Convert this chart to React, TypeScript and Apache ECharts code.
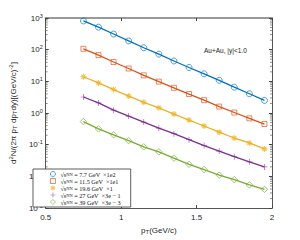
import React, { useEffect, useRef } from "react";
import * as echarts from "echarts";

const pT = [0.75, 0.85, 0.95, 1.05, 1.15, 1.25, 1.35, 1.45, 1.55, 1.65, 1.75, 1.85, 1.95];
const y77 = [807, 514, 312, 189, 115, 72.4, 44, 27.4, 17.3, 10.8, 6.56, 4.06, 2.51];
const y115 = [106.7, 67.5, 40.9, 25.5, 15.5, 9.8, 6.24, 3.98, 2.55, 1.6, 1.04, 0.68, 0.45];
const y196 = [14.0, 8.9, 5.52, 3.44, 2.18, 1.46, 0.925, 0.6, 0.39, 0.25, 0.163, 0.114, 0.074];
const y27 = [3.21, 2.09, 1.23, 0.8, 0.52, 0.333, 0.224, 0.144, 0.094, 0.063, 0.042, 0.029, 0.02];
const y39 = [0.537, 0.316, 0.206, 0.134, 0.0855, 0.0597, 0.0376, 0.0241, 0.0165, 0.011, 0.0079, 0.0054, 0.0039];

const energies = ["7.7", "11.5", "19.6", "27", "39"];
const scales = ["×1e2", "×1e1", "×1", "×3e − 1", "×3e − 3"];
const colors = ["#0072BD", "#D95319", "#EDB120", "#7E2F8E", "#77AC30"];
const allY = [y77, y115, y196, y27, y39];

const xTicks = [0.5, 1, 1.5, 2];
const yDecades = [-3, -2, -1, 0, 1, 2, 3];

function armsPath(angles: number[], t: number) {
  let d = "path://";
  for (const deg of angles) {
    const a = (deg * Math.PI) / 180;
    const ux = Math.cos(a) * 5, uy = Math.sin(a) * 5;
    const vx = -Math.sin(a) * t, vy = Math.cos(a) * t;
    const p = [
      [-ux - vx, -uy - vy],
      [ux - vx, uy - vy],
      [ux + vx, uy + vy],
      [-ux + vx, -uy + vy],
    ];
    d += `M${p[0][0].toFixed(2)},${p[0][1].toFixed(2)}L${p[1][0].toFixed(2)},${p[1][1].toFixed(2)}L${p[2][0].toFixed(2)},${p[2][1].toFixed(2)}L${p[3][0].toFixed(2)},${p[3][1].toFixed(2)}Z`;
  }
  return d;
}
const STAR = armsPath([0, 45, 90, 135], 0.9);
const PLUS = armsPath([0, 90], 0.6);
const symbols = ["circle", "rect", STAR, PLUS, "diamond"];
const hollow = [true, true, false, false, true];
const sizes = [6, 5, 6, 6, 6.5];

export default function App() {
  const ref = useRef<HTMLDivElement>(null);
  useEffect(() => {
    if (!ref.current) return;
    const chart = echarts.init(ref.current, null, { renderer: "svg" });
    const names = energies.map((e, i) => `${e} GeV ${scales[i]}`);

    const minorVals: number[] = [];
    for (let d = -3; d < 3; d++) {
      for (let k = 2; k <= 9; k++) minorVals.push(k * Math.pow(10, d));
    }

    const series: any[] = allY.map((ys, i) => ({
      name: names[i],
      type: "line",
      data: pT.map((x, j) => [x, ys[j]]),
      symbol: symbols[i],
      symbolSize: sizes[i],
      showAllSymbol: true,
      lineStyle: { color: colors[i], width: 1.3 },
      itemStyle: {
        color: hollow[i] ? "rgba(255,255,255,0)" : colors[i],
        borderColor: colors[i],
        borderWidth: hollow[i] ? 0.9 : 0,
        opacity: 0.75,
      },
      z: 3,
    }));

    series.push({
      type: "custom",
      silent: true,
      data: minorVals.map((v) => [0.5, v]),
      renderItem: (params: any, api: any) => {
        const cs = params.coordSys;
        const p = api.coord([0.5, api.value(1)]);
        const style = { stroke: "#444", lineWidth: 0.6 };
        return {
          type: "group",
          children: [
            { type: "line", shape: { x1: cs.x, y1: p[1], x2: cs.x + 2, y2: p[1] }, style },
            { type: "line", shape: { x1: cs.x + cs.width - 2, y1: p[1], x2: cs.x + cs.width, y2: p[1] }, style },
          ],
        };
      },
      z: 1,
    });

    const axisCommon = {
      axisLine: { show: true, lineStyle: { color: "#555", width: 1 } },
      axisTick: { show: true, inside: true, length: 3, lineStyle: { color: "#444" } },
      splitLine: { show: false },
    };

    chart.setOption({
      animation: false,
      backgroundColor: "#fff",
      grid: { left: 38, top: 18, right: 28, bottom: 29 },
      xAxis: [
        {
          type: "value",
          min: xTicks[0],
          max: xTicks[xTicks.length - 1],
          interval: 0.5,
          ...axisCommon,
          axisLabel: {
            fontSize: 8,
            color: "#262626",
            fontFamily: "Liberation Sans",
            margin: 5,
            formatter: (v: number) => String(v),
          },
          name: "{a|p}{s|T}{a|(GeV/c)}",
          nameLocation: "middle",
          nameGap: 15,
          nameTextStyle: {
            rich: {
              a: { fontSize: 8, color: "#262626", fontFamily: "Liberation Sans" },
              s: { fontSize: 6, color: "#262626", fontFamily: "Liberation Sans", padding: [4, 0, 0, 0] },
            },
          },
        },
        {
          type: "value",
          position: "top",
          min: xTicks[0],
          max: xTicks[xTicks.length - 1],
          interval: 0.5,
          ...axisCommon,
          axisLine: { show: true, lineStyle: { color: "#999", width: 2 } },
          axisLabel: { show: false },
        },
      ],
      yAxis: [
        {
          type: "log",
          logBase: 10,
          min: Math.pow(10, yDecades[0]),
          max: Math.pow(10, yDecades[yDecades.length - 1]),
          ...axisCommon,
          axisLabel: {
            margin: 3,
            formatter: (v: number) => `{b|10}{e|${Math.round(Math.log10(v))}}`,
            rich: {
              b: { fontSize: 8, color: "#262626", fontFamily: "Liberation Sans" },
              e: { fontSize: 5.5, color: "#262626", fontFamily: "Liberation Sans", padding: [0, 0, 5, 0] },
            },
          },
          name:
            "{a|d}{u|2}{a|N/(2π p}{s|T}{a| dp}{s|T}{a|dy)[(GeV/c)}{u|-2}{a|]}",
          nameLocation: "middle",
          nameRotate: 90,
          nameGap: 24,
          nameTextStyle: {
            rich: {
              a: { fontSize: 8, color: "#262626", fontFamily: "Liberation Sans" },
              s: { fontSize: 6, color: "#262626", fontFamily: "Liberation Sans", padding: [4, 0, 0, 0] },
              u: { fontSize: 6, color: "#262626", fontFamily: "Liberation Sans", padding: [0, 0, 4, 0] },
            },
          },
        },
        {
          type: "log",
          logBase: 10,
          position: "right",
          min: Math.pow(10, yDecades[0]),
          max: Math.pow(10, yDecades[yDecades.length - 1]),
          ...axisCommon,
          axisLabel: { show: false },
        },
      ],
      legend: {
        orient: "vertical",
        left: 33,
        top: 169,
        itemWidth: 5,
        itemHeight: 5,
        itemGap: 1,
        padding: [2, 10, 2, 17],
        borderColor: "#333",
        borderWidth: 0.8,
        backgroundColor: "#fff",
        data: names.map((n, i) => ({
          name: n,
          icon: i === 0 ? "circle" : i === 1 ? "rect" : i === 4 ? "diamond" : symbols[i],
          itemStyle: {
            color: hollow[i] ? "rgba(255,255,255,0)" : colors[i],
            borderColor: colors[i],
            borderWidth: hollow[i] ? 0.9 : 0,
          },
        })),
        formatter: (n: string) => {
          const i = names.indexOf(n);
          return `{t|√}{t|s}{n|NN}{t| = ${energies[i]} GeV  ${scales[i]}}`;
        },
        textStyle: {
          rich: {
            t: { fontSize: 6.2, lineHeight: 5, color: "#111", fontFamily: "Liberation Serif" },
            n: { fontSize: 4.4, lineHeight: 5, color: "#111", fontFamily: "Liberation Serif" },
          },
        },
      },
      graphic: [
        {
          type: "text",
          left: 204,
          top: 47,
          style: { text: "Au+Au, |y|<1.0", fontSize: 6.5, fill: "#222", fontFamily: "Liberation Sans" },
        },
      ],
      series,
    });
    return () => chart.dispose();
  }, []);
  return <div ref={ref} style={{ width: 300, height: 240, position: "fixed", left: 0, top: 0 }} />;
}
